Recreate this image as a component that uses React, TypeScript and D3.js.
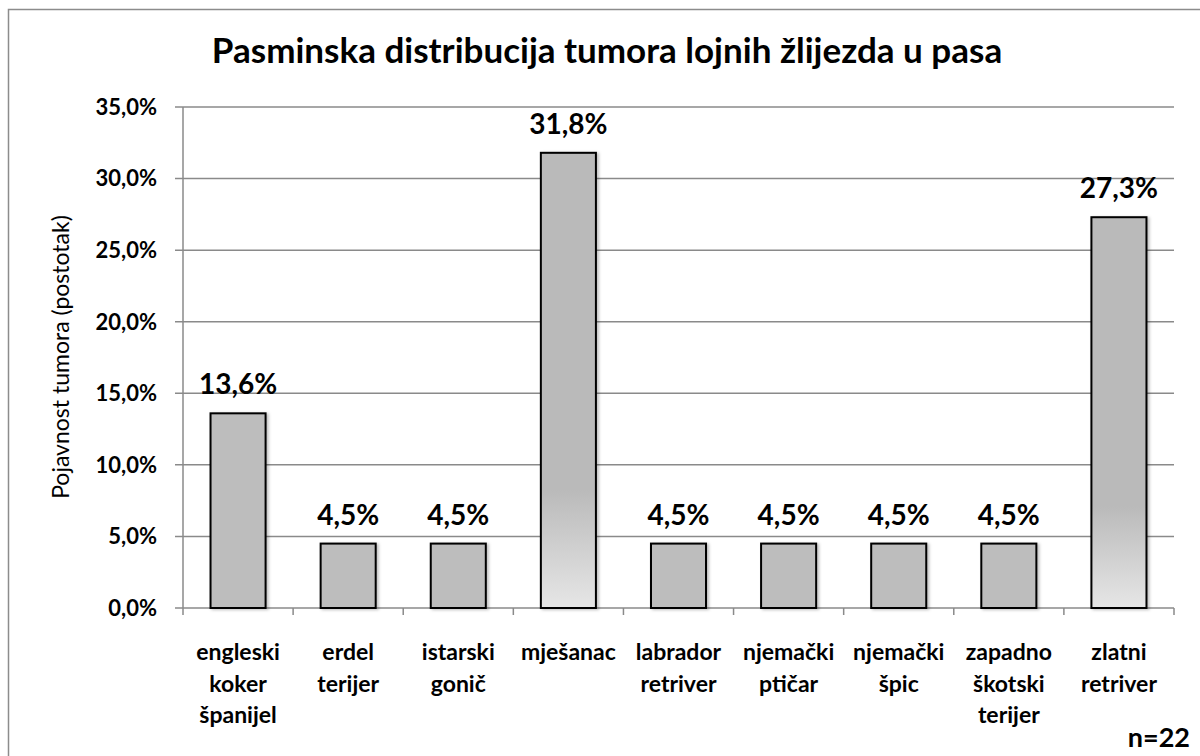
import React, { useEffect, useRef } from "react";
import * as d3 from "d3";

const categories = [
  "engleski koker španijel",
  "erdel terijer",
  "istarski gonič",
  "mješanac",
  "labrador retriver",
  "njemački ptičar",
  "njemački špic",
  "zapadno škotski terijer",
  "zlatni retriver",
];
const labelLines = [
  ["engleski", "koker", "španijel"],
  ["erdel", "terijer"],
  ["istarski", "gonič"],
  ["mješanac"],
  ["labrador", "retriver"],
  ["njemački", "ptičar"],
  ["njemački", "špic"],
  ["zapadno", "škotski", "terijer"],
  ["zlatni", "retriver"],
];
const values = [13.6, 4.5, 4.5, 31.8, 4.5, 4.5, 4.5, 4.5, 27.3];
const yTicks = [0, 5, 10, 15, 20, 25, 30, 35];

const App = () => {
  const ref = useRef<SVGSVGElement>(null);

  useEffect(() => {
    const svg = d3.select(ref.current);
    svg.selectAll("*").remove();

    const width = 1200;
    const height = 756;
    const left = 183;
    const right = 1174;
    const top = 107;
    const bottom = 608;
    const font = "Lato, 'Open Sans', sans-serif";
    const gridColor = "#8a8a8a";

    const defs = svg.append("defs");
    const grad = defs
      .append("linearGradient")
      .attr("id", "barGrad")
      .attr("x1", 0)
      .attr("y1", 0)
      .attr("x2", 0)
      .attr("y2", 1);
    grad.append("stop").attr("offset", "0%").attr("stop-color", "#bababa");
    grad.append("stop").attr("offset", "74%").attr("stop-color", "#bababa");
    grad.append("stop").attr("offset", "100%").attr("stop-color", "#e6e6e6");

    const shadow = defs.append("filter").attr("id", "shadow").attr("x", "-20%").attr("width", "150%");
    shadow
      .append("feDropShadow")
      .attr("dx", 2)
      .attr("dy", 1)
      .attr("stdDeviation", 1.5)
      .attr("flood-color", "#000")
      .attr("flood-opacity", 0.25);

    // outer frame
    svg
      .append("rect")
      .attr("x", 8.5)
      .attr("y", 9.5)
      .attr("width", width + 20)
      .attr("height", height + 20)
      .attr("fill", "#fff")
      .attr("stroke", "#8c8c8c")
      .attr("stroke-width", 1.5);

    const x = d3.scaleBand().domain(categories).range([left, right]).paddingInner(0.5).paddingOuter(0.25);
    const xEdge = d3.scaleLinear().domain([0, categories.length]).range([left, right]);
    const y = d3.scaleLinear().domain([0, 35]).range([bottom, top]);

    // gridlines + y ticks
    svg
      .selectAll("line.grid")
      .data(yTicks)
      .enter()
      .append("line")
      .attr("x1", left - 8)
      .attr("x2", right)
      .attr("y1", (d) => y(d))
      .attr("y2", (d) => y(d))
      .attr("stroke", gridColor)
      .attr("stroke-width", 1.5);

    svg
      .selectAll("text.ytick")
      .data(yTicks)
      .enter()
      .append("text")
      .attr("x", 157)
      .attr("y", (d) => y(d))
      .attr("dy", "0.36em")
      .attr("text-anchor", "end")
      .attr("font-family", font)
      .attr("font-weight", "bold")
      .attr("font-size", 22)
      .text((d) => d.toFixed(1).replace(".", ",") + "%");

    // axes
    svg
      .append("line")
      .attr("x1", left)
      .attr("x2", left)
      .attr("y1", top)
      .attr("y2", bottom + 7)
      .attr("stroke", gridColor)
      .attr("stroke-width", 1.5);

    svg
      .selectAll("line.xtick")
      .data(d3.range(1, categories.length + 1))
      .enter()
      .append("line")
      .attr("x1", (d) => xEdge(d))
      .attr("x2", (d) => xEdge(d))
      .attr("y1", bottom)
      .attr("y2", bottom + 7)
      .attr("stroke", gridColor)
      .attr("stroke-width", 1.5);

    // bars
    svg
      .selectAll("rect.bar")
      .data(values)
      .enter()
      .append("rect")
      .attr("x", (d, i) => x(categories[i]) as number)
      .attr("y", (d) => y(d))
      .attr("width", x.bandwidth())
      .attr("height", (d) => bottom - y(d))
      .attr("fill", (d) => (d > 20 ? "url(#barGrad)" : "#bdbdbd"))
      .attr("stroke", "#000")
      .attr("stroke-width", 2)
      .attr("filter", "url(#shadow)");

    // value labels
    svg
      .selectAll("text.val")
      .data(values)
      .enter()
      .append("text")
      .attr("x", (d, i) => (x(categories[i]) as number) + x.bandwidth() / 2)
      .attr("y", (d) => y(d) - 19)
      .attr("text-anchor", "middle")
      .attr("font-family", font)
      .attr("font-weight", "bold")
      .attr("font-size", 28)
      .text((d) => d.toFixed(1).replace(".", ",") + "%");

    // category labels
    const cat = svg
      .selectAll("text.cat")
      .data(labelLines)
      .enter()
      .append("text")
      .attr("text-anchor", "middle")
      .attr("font-family", font)
      .attr("font-weight", "bold")
      .attr("font-size", 23)
      .attr("transform", (d, i) => `translate(${(x(categories[i]) as number) + x.bandwidth() / 2},660)`);
    cat
      .selectAll("tspan")
      .data((d) => d)
      .enter()
      .append("tspan")
      .attr("x", 0)
      .attr("y", (d, i) => i * 31.5)
      .text((d) => d);

    // title
    svg
      .append("text")
      .attr("x", 607)
      .attr("y", 63)
      .attr("text-anchor", "middle")
      .attr("font-family", font)
      .attr("font-weight", "bold")
      .attr("font-size", 35)
      .text("Pasminska distribucija tumora lojnih žlijezda u pasa");

    // y axis title
    svg
      .append("text")
      .attr("transform", `translate(69,357) rotate(-90)`)
      .attr("text-anchor", "middle")
      .attr("font-family", font)
      .attr("font-size", 23)
      .text("Pojavnost tumora  (postotak)");

    // sample size
    svg
      .append("text")
      .attr("x", 1190)
      .attr("y", 747)
      .attr("text-anchor", "end")
      .attr("font-family", font)
      .attr("font-weight", "bold")
      .attr("font-size", 27)
      .text("n=22");
  }, []);

  return (
    <svg
      ref={ref}
      width={1200}
      height={756}
      style={{ position: "absolute", left: 0, top: 0, display: "block" }}
    />
  );
};

export default App;
